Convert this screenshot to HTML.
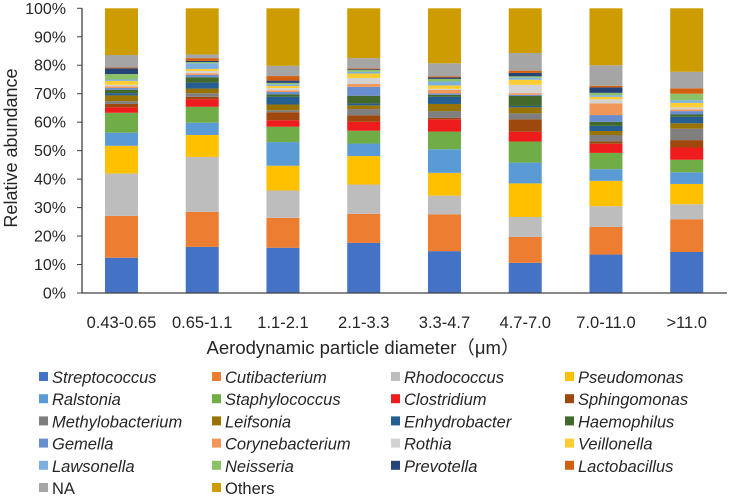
<!DOCTYPE html>
<html><head><meta charset="utf-8"><style>
body{margin:0;background:#fff;font-family:"Liberation Sans",sans-serif;}
svg text{font-family:"Liberation Sans","Noto Sans CJK SC",sans-serif;fill:#262626;}
</style></head><body>
<svg id="chart" width="729" height="496" viewBox="0 0 729 496"></svg>
<script>
const categories=["0.43-0.65","0.65-1.1","1.1-2.1","2.1-3.3","3.3-4.7","4.7-7.0","7.0-11.0",">11.0"];
const seriesNames=["Streptococcus","Cutibacterium","Rhodococcus","Pseudomonas","Ralstonia","Staphylococcus","Clostridium","Sphingomonas","Methylobacterium","Leifsonia","Enhydrobacter","Haemophilus","Gemella","Corynebacterium","Rothia","Veillonella","Lawsonella","Neisseria","Prevotella","Lactobacillus","NA","Others"];
const seriesColors=["#4472C4","#ED7D31","#BDBDBD","#FFC000","#5B9BD5","#70AD47","#EE1C1C","#9E480E","#7F7F7F","#997300","#255E91","#43682B","#698ED0","#F1975A","#D3D3D3","#FFCD33","#7CAFDD","#8CC168","#264478","#D26012","#A5A5A5","#CC9C00"];
const italic=[1,1,1,1,1,1,1,1,1,1,1,1,1,1,1,1,1,1,1,1,0,0];
const streptococcus=[12.4,16.2,15.9,17.6,14.7,10.6,13.5,14.4];
const cutibacterium=[14.7,12.3,10.5,10.2,12.9,9.1,9.7,11.5];
const rhodococcus=[14.9,19.3,9.6,10.3,6.6,7.0,7.3,5.3];
const pseudomonas=[9.7,7.7,8.7,10.0,8.0,11.8,8.9,7.1];
const ralstonia=[4.6,4.3,8.3,4.4,8.3,7.3,4.1,4.1];
const staphylococcus=[7.0,5.6,5.4,4.5,6.2,7.4,5.7,4.4];
const clostridium=[1.9,2.7,2.3,3.1,4.3,3.4,3.2,4.3];
const sphingomonas=[1.2,0.8,2.8,2.3,0.5,4.4,0.8,2.6];
const methylobacterium=[1.0,1.3,0.7,2.2,2.4,2.1,2.3,4.0];
const leifsonia=[2.0,1.6,2.0,1.3,2.5,2.1,1.4,1.9];
const enhydrobacter=[0.8,2.1,2.7,0.7,2.5,0.5,1.8,2.3];
const haemophilus=[1.2,1.9,0.9,2.7,0.7,3.5,1.4,0.8];
const gemella=[0.6,0.8,0.8,3.1,0.5,0.4,2.4,1.2];
const corynebacterium=[0.6,0.6,0.6,1.0,1.2,0.6,4.1,0.6];
const rothia=[0.5,0.8,0.8,2.1,0.4,2.9,1.4,0.7];
const veillonella=[1.4,0.7,0.7,1.6,1.2,1.8,0.9,1.6];
const lawsonella=[0.5,2.0,0.6,0.6,1.4,0.7,0.6,0.9];
const neisseria=[1.9,0.4,0.5,0.6,0.9,0.5,0.8,2.3];
const prevotella=[2.0,0.4,0.8,0.3,0.5,1.2,1.9,0.0];
const lactobacillus=[0.3,1.0,1.6,0.3,0.4,0.8,0.6,1.9];
const naValues=[4.4,1.3,3.6,3.6,4.6,6.2,7.2,5.8];
const others=[16.4,16.2,20.2,17.5,19.3,15.7,20.0,22.3];
const seriesValues=[streptococcus,cutibacterium,rhodococcus,pseudomonas,ralstonia,staphylococcus,clostridium,sphingomonas,methylobacterium,leifsonia,enhydrobacter,haemophilus,gemella,corynebacterium,rothia,veillonella,lawsonella,neisseria,prevotella,lactobacillus,naValues,others];
const yTicks=[0,10,20,30,40,50,60,70,80,90,100];

const NS="http://www.w3.org/2000/svg";
const svg=document.getElementById('chart');
const X0=81.1,BAND=80.75,BW=33,Y0=293,Y1=8.3;
function xScale(i){return X0+BAND*(i+0.5);}
function yScale(v){return Y0-(Y0-Y1)*v/100;}
function mk(tag,attrs,parent){const e=document.createElementNS(NS,tag);for(const k in attrs)e.setAttribute(k,attrs[k]);(parent||svg).appendChild(e);return e;}

categories.forEach((c,i)=>{
  const g=mk('g',{});
  
  
  let cum=0;
  seriesValues.forEach((arr,s)=>{
    const v=arr[i];
    const r=mk('rect',{x:xScale(i)-BW/2,y:yScale(cum+v),width:BW,height:Math.max(0,yScale(cum)-yScale(cum+v)),fill:seriesColors[s]},g);
    
    
    cum+=v;
  });
});
const ya=mk('line',{x1:82,y1:Y1,x2:82,y2:Y0,stroke:'#404040','stroke-width':1.3});


const xa=mk('line',{x1:82,y1:Y0,x2:727,y2:Y0,stroke:'#404040','stroke-width':1.3});


yTicks.forEach(t=>{
  const tk=mk('line',{x1:77,x2:82,y1:yScale(t),y2:yScale(t),stroke:'#404040'});
  
  
  const tx=mk('text',{x:66,y:yScale(t)+5.5,'text-anchor':'end','font-size':16});
  tx.textContent=t+'%';
  
  
});
categories.forEach((c,i)=>{
  const tx=mk('text',{x:xScale(i),y:328,'text-anchor':'middle','font-size':16.5});
  tx.textContent=c;
  
  
});
const xt=mk('text',{x:363,y:354,'text-anchor':'middle','font-size':18.5});
xt.textContent='Aerodynamic particle diameter（μm）';


const ytl=mk('text',{x:0,y:0,'text-anchor':'middle','font-size':18,transform:'translate(17,148) rotate(-90)'});
ytl.textContent='Relative abundance';


const colX=[39,212,391,565];
seriesNames.forEach((n,s)=>{
  const col=s%4,row=Math.floor(s/4);
  const y=377+row*22.2;
  const g=mk('g',{});
  
  
  mk('rect',{x:colX[col],y:y-5,width:9,height:9,fill:seriesColors[s]},g);
  const t=mk('text',{x:colX[col]+13,y:y+6,'font-size':16.5,'font-style':italic[s]?'italic':'normal'},g);
  t.textContent=n;
});
</script>
</body></html>
